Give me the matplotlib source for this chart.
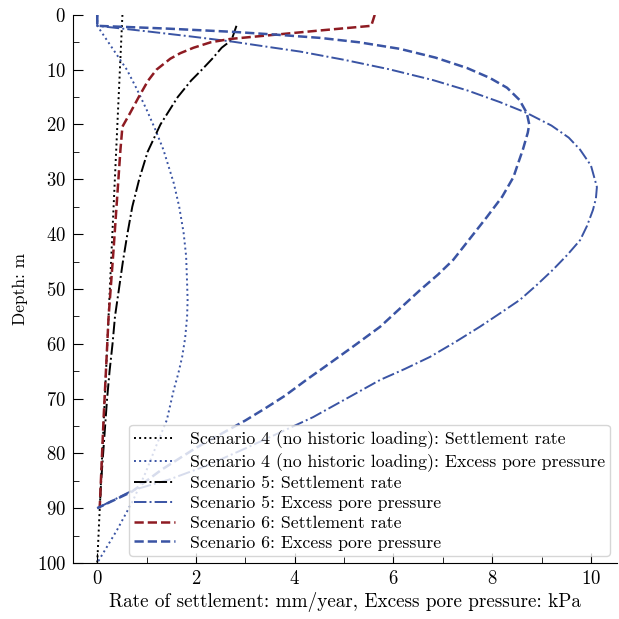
import matplotlib
matplotlib.use("Agg")
import matplotlib.pyplot as plt
from matplotlib.ticker import MultipleLocator

plt.rcParams['font.family'] = ['cmr10', 'DejaVu Serif']
plt.rcParams['mathtext.fontset'] = 'cm'
plt.rcParams['axes.formatter.use_mathtext'] = True

# scenario 4 (no historic loading)
s4_rate_x = [0.51, 0.0]
s4_rate_d = [0.0, 100.0]
s4_pore_x = [0.0, 0.0, 0.3, 0.6, 0.8, 1.0, 1.18, 1.34, 1.55, 1.66, 1.75, 1.8, 1.82, 1.83,
             1.82, 1.78, 1.72, 1.64, 1.55, 1.41, 1.2, 0.98, 0.73, 0.4, 0.0]
s4_pore_d = [0.0, 2.0, 6.0, 10.0, 13.5, 17.3, 21.0, 24.6, 30.7, 35.0, 39.8, 44.0, 48.9, 52.0,
             55.1, 59.0, 62.4, 65.5, 68.4, 73.9, 78.5, 83.5, 88.5, 94.0, 100.0]

# scenario 5
s5_rate_x = [2.82, 2.72, 2.52, 2.33, 2.12, 1.9, 1.63, 1.42, 1.28, 1.02, 0.85, 0.71, 0.61,
             0.52, 0.44, 0.36, 0.31, 0.25, 0.2, 0.16, 0.12, 0.08, 0.05]
s5_rate_d = [2.0, 4.6, 6.0, 8.0, 10.0, 12.0, 15.0, 18.0, 20.0, 25.0, 30.0, 35.0, 40.0,
             45.0, 50.0, 55.0, 60.0, 65.0, 70.0, 75.0, 80.0, 85.0, 90.0]
s5_pore_x = [0.0, 0.0, 1.0, 1.95, 2.75, 3.5, 4.11, 5.0, 5.9, 6.8, 7.5, 8.15, 8.7, 9.2,
             9.55, 9.78, 10.0, 10.12, 10.1, 10.04, 9.92, 9.78, 9.52, 9.23, 8.9, 8.56,
             8.15, 7.75, 7.25, 6.74, 6.23, 5.73, 5.05, 4.37, 3.7, 2.95, 2.2, 1.45, 0.73, 0.0]
s5_pore_d = [0.0, 2.0, 3.0, 4.0, 4.9, 5.9, 6.7, 8.2, 9.9, 11.9, 13.8, 15.9, 17.9, 20.2,
             22.4, 24.6, 27.5, 31.4, 33.5, 35.6, 38.5, 41.1, 43.8, 46.5, 49.3, 52.0,
             54.5, 56.9, 59.7, 62.4, 64.6, 66.6, 70.0, 73.4, 76.2, 79.3, 82.3, 84.8, 86.7, 90.0]

# scenario 6
s6_rate_x = [5.62, 5.55, 4.45, 2.69, 2.3, 1.95, 1.68, 1.48, 1.2, 1.03, 0.84, 0.66, 0.51,
             0.47, 0.33, 0.23, 0.13, 0.05]
s6_rate_d = [0.0, 2.0, 2.9, 4.4, 5.0, 6.0, 7.0, 8.0, 10.0, 12.0, 15.0, 18.0, 20.4,
             24.6, 42.9, 55.1, 73.4, 90.0]
s6_pore_x = [0.0, 0.0, 1.4, 2.75, 3.6, 4.51, 5.3, 6.13, 6.85, 7.49, 7.95, 8.3, 8.55, 8.7,
             8.75, 8.72, 8.62, 8.52, 8.43, 8.2, 7.89, 7.55, 7.21, 6.9, 6.54, 6.14, 5.73,
             5.23, 4.72, 4.25, 3.8, 3.4, 3.0, 2.5, 2.0, 1.3, 0.7, 0.0]
s6_pore_d = [0.0, 2.0, 2.5, 3.1, 3.6, 4.2, 5.0, 6.2, 7.8, 9.7, 11.5, 13.3, 15.5, 17.9,
             20.0, 21.5, 24.6, 27.2, 29.6, 33.2, 36.9, 40.8, 44.7, 47.4, 50.2, 53.5, 56.9,
             60.2, 63.5, 66.5, 69.5, 71.8, 74.0, 76.5, 79.0, 83.0, 87.0, 90.0]

blue = '#3a54a4'
red = '#8e1b22'

fig = plt.figure(figsize=(6.19, 6.19), dpi=100)
ax = fig.add_axes([0.118, 0.0905, 0.879, 0.8855])

ax.plot(s4_rate_x, s4_rate_d, ':', color='black', lw=1.4,
        label='Scenario 4 (no historic loading): Settlement rate')
ax.plot(s4_pore_x, s4_pore_d, ':', color=blue, lw=1.4,
        label='Scenario 4 (no historic loading): Excess pore pressure')
ax.plot(s5_rate_x, s5_rate_d, '-.', color='black', lw=1.4,
        label='Scenario 5: Settlement rate')
ax.plot(s5_pore_x, s5_pore_d, '-.', color=blue, lw=1.4,
        label='Scenario 5: Excess pore pressure')
ax.plot(s6_rate_x, s6_rate_d, '--', color=red, lw=1.8,
        label='Scenario 6: Settlement rate')
ax.plot(s6_pore_x, s6_pore_d, '--', color=blue, lw=1.8,
        label='Scenario 6: Excess pore pressure')

ax.set_xlim(-0.49, 10.53)
ax.set_ylim(100, 0)
ax.xaxis.set_major_locator(MultipleLocator(2))
ax.xaxis.set_minor_locator(MultipleLocator(1))
ax.yaxis.set_major_locator(MultipleLocator(10))
ax.yaxis.set_minor_locator(MultipleLocator(5))
ax.tick_params(which='both', direction='in', labelsize=13.5)
ax.tick_params(which='major', length=7, pad=5)
ax.tick_params(which='minor', length=4)
ax.spines['top'].set_visible(False)
ax.spines['right'].set_visible(False)

ax.set_xlabel('Rate of settlement: mm/year, Excess pore pressure: kPa', fontsize=13.8, labelpad=3)
ax.set_ylabel('Depth: m', fontsize=12.5, labelpad=6)

ax.legend(loc='lower right', fontsize=12.8, framealpha=0.8, edgecolor='#cccccc',
          borderaxespad=0.4, handlelength=2.3, labelspacing=0.24, borderpad=0.3,
          handletextpad=0.8)

fig.savefig('out.png', dpi=100)
